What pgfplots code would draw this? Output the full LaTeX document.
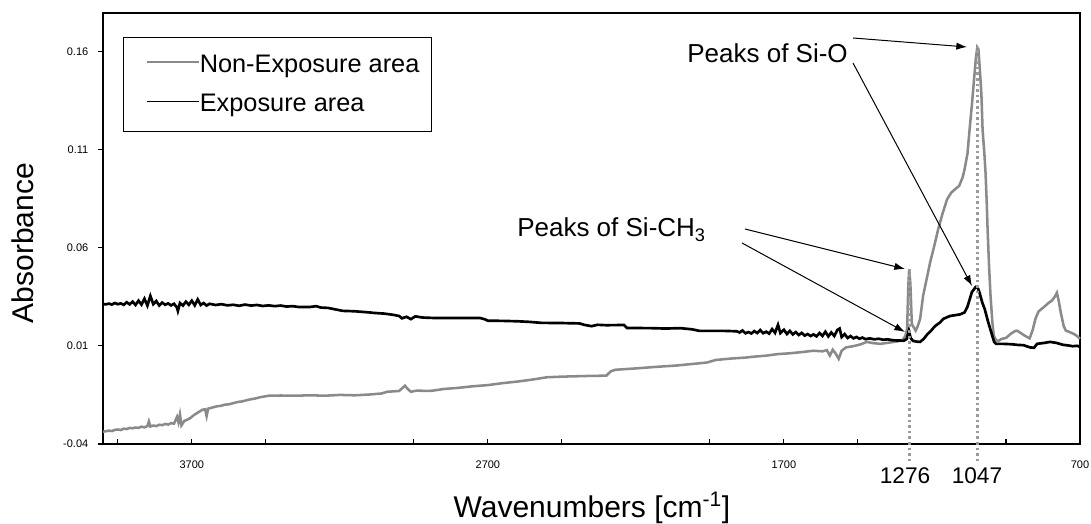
\documentclass[border=0pt]{standalone}
\usepackage{fontspec}
\setmainfont{Liberation Sans}
\usepackage{pgfplots}
\pgfplotsset{compat=1.18}
\usetikzlibrary{arrows.meta}
\definecolor{lgray}{RGB}{138,138,138}
\definecolor{dgray}{RGB}{155,155,155}
\begin{document}
\begin{tikzpicture}
\useasboundingbox (-77.25pt,-60pt) rectangle (741pt,333pt);
\begin{axis}[
 scale only axis, width=732.75pt, height=323.25pt,
 at={(0,0)}, anchor=south west,
 x dir=reverse, xmin=700, xmax=4000, ymin=-0.04, ymax=0.1795,
 clip=false,
 axis line style={line width=1.8pt},
 xtick={700,1700,2700,3700}, xticklabels={700,1700,2700,3700},
 minor xtick={950,1450,1950,2450,2950,3450,3950},
 ytick={-0.04,0.01,0.06,0.11,0.16}, yticklabels={-0.04,0.01,0.06,0.11,0.16},
 xtick align=inside, ytick align=outside,
 xtick pos=left, ytick pos=left,
 major tick length=4pt, minor tick length=4pt,
 tick style={black, line width=0.8pt},
 ticklabel style={font=\fontsize{8.25}{10}\selectfont},
 yticklabel style={xshift=-3.5pt},
 xticklabel style={yshift=-9pt},
 xlabel={Wavenumbers [cm\textsuperscript{-1}]},
 ylabel={Absorbance},
 label style={font=\fontsize{22.5}{27}\selectfont},
 xlabel style={at={(axis description cs:0.5005,-0.1694)}, anchor=base},
 ylabel style={at={(axis description cs:-0.0824,0.466)}, anchor=center},
 legend cell align=left,
 legend style={at={(rel axis cs:0.0205,0.944)}, anchor=north west, draw=black, line width=0.75pt,
   inner xsep=9pt, inner ysep=13pt, row sep=15pt, font=\fontsize{19}{23}\selectfont,
   nodes={inner sep=0pt}, /tikz/every even column/.append style={column sep=3.75pt}},
 legend image code/.code={\path (0pt,0pt); \draw[#1,line width=1.4pt] (7.5pt,0.2em) -- (46.5pt,0.2em);},
]
\addplot[lgray, line width=1.9pt] coordinates {
(4000,-0.0337) (3990,-0.0335) (3980,-0.0332) (3970,-0.0334) (3960,-0.0328) (3950,-0.0326) (3940,-0.0329) (3930,-0.0322) (3920,-0.0324) (3910,-0.0318) (3900,-0.0320) (3890,-0.0316) (3880,-0.0318) (3870,-0.0312) (3860,-0.0315) (3850,-0.0309) (3845,-0.0285) (3840,-0.0311) (3830,-0.0306) (3820,-0.0309) (3810,-0.0302) (3800,-0.0304) (3790,-0.0298) (3780,-0.0301) (3770,-0.0294) (3760,-0.0296) (3750,-0.0262) (3745,-0.0290) (3740,-0.0250) (3735,-0.0305) (3725,-0.0282) (3715,-0.0276) (3705,-0.0268) (3695,-0.0255) (3685,-0.0245) (3675,-0.0236) (3665,-0.0226) (3655,-0.0223) (3650,-0.0258) (3645,-0.0220) (3630,-0.0214) (3615,-0.0208) (3600,-0.0205) (3590,-0.0200) (3575,-0.0198) (3560,-0.0192) (3545,-0.0186) (3530,-0.0183) (3515,-0.0177) (3500,-0.0172) (3485,-0.0168) (3470,-0.0162) (3455,-0.0158) (3440,-0.0154) (3400,-0.0153) (3350,-0.0154) (3300,-0.0152) (3250,-0.0154) (3200,-0.0150) (3150,-0.0152) (3100,-0.0148) (3060,-0.0143) (3040,-0.0134) (3000,-0.0130) (2985,-0.0110) (2980,-0.0103) (2972,-0.0118) (2960,-0.0134) (2940,-0.0128) (2900,-0.0130) (2880,-0.0127) (2850,-0.0120) (2800,-0.0114) (2750,-0.0106) (2700,-0.0100) (2650,-0.0090) (2600,-0.0082) (2550,-0.0072) (2500,-0.0060) (2450,-0.0057) (2400,-0.0055) (2350,-0.0053) (2300,-0.0052) (2285,-0.0030) (2270,-0.0022) (2200,-0.0015) (2130,-0.0007) (2060,0.0000) (2000,0.0009) (1960,0.0015) (1930,0.0028) (1880,0.0035) (1830,0.0040) (1800,0.0045) (1760,0.0050) (1720,0.0058) (1680,0.0062) (1640,0.0068) (1600,0.0075) (1570,0.0072) (1555,0.0078) (1545,0.0050) (1535,0.0080) (1525,0.0060) (1515,0.0034) (1505,0.0075) (1490,0.0092) (1460,0.0100) (1440,0.0108) (1420,0.0120) (1400,0.0114) (1375,0.0110) (1350,0.0115) (1320,0.0122) (1300,0.0128) (1290,0.0150) (1284,0.0186) (1280,0.0400) (1277,0.0490) (1273,0.0420) (1268,0.0210) (1262,0.0195) (1255,0.0177) (1248,0.0200) (1240,0.0237) (1230,0.0354) (1218,0.0440) (1206,0.0526) (1192,0.0610) (1179,0.0694) (1165,0.0770) (1149,0.0846) (1135,0.0880) (1120,0.0900) (1108,0.0915) (1096,0.0960) (1090,0.0998) (1080,0.1080) (1073,0.1200) (1065,0.1330) (1058,0.1455) (1052,0.1560) (1047,0.1620) (1043,0.1610) (1038,0.1500) (1033,0.1380) (1029,0.1200) (1023,0.1080) (1019,0.0980) (1015,0.0830) (1012,0.0690) (1007,0.0500) (1002,0.0350) (996,0.0220) (991,0.0150) (983,0.0128) (975,0.0125) (965,0.0135) (950,0.0140) (935,0.0160) (920,0.0175) (912,0.0177) (900,0.0165) (885,0.0150) (870,0.0138) (860,0.0180) (850,0.0240) (840,0.0275) (820,0.0300) (805,0.0320) (795,0.0330) (785,0.0350) (778,0.0370) (772,0.0330) (765,0.0270) (755,0.0200) (748,0.0178) (735,0.0170) (720,0.0160) (710,0.0150) (700,0.0136)
};
\addlegendentry{Non-Exposure area}
\addplot[black, line width=2pt] coordinates {
(4000,0.0313) (3990,0.0311) (3980,0.0315) (3970,0.0310) (3960,0.0318) (3950,0.0312) (3940,0.0316) (3930,0.0309) (3920,0.0322) (3910,0.0311) (3900,0.0325) (3890,0.0308) (3880,0.0330) (3870,0.0310) (3860,0.0340) (3850,0.0305) (3840,0.0354) (3830,0.0312) (3820,0.0328) (3810,0.0305) (3800,0.0320) (3790,0.0309) (3780,0.0316) (3770,0.0306) (3760,0.0314) (3750,0.0295) (3747,0.0278) (3740,0.0318) (3730,0.0305) (3720,0.0325) (3710,0.0309) (3700,0.0330) (3690,0.0306) (3680,0.0336) (3670,0.0308) (3660,0.0318) (3650,0.0305) (3640,0.0314) (3620,0.0308) (3600,0.0312) (3580,0.0306) (3560,0.0309) (3540,0.0304) (3520,0.0310) (3500,0.0305) (3480,0.0308) (3460,0.0303) (3440,0.0306) (3420,0.0302) (3400,0.0305) (3380,0.0300) (3360,0.0302) (3340,0.0298) (3300,0.0298) (3280,0.0302) (3265,0.0295) (3240,0.0293) (3210,0.0284) (3190,0.0278) (3150,0.0276) (3100,0.0270) (3088,0.0268) (3050,0.0264) (3020,0.0258) (3000,0.0252) (2990,0.0240) (2975,0.0248) (2960,0.0236) (2945,0.0250) (2920,0.0244) (2885,0.0242) (2800,0.0242) (2727,0.0242) (2710,0.0235) (2700,0.0228) (2650,0.0227) (2600,0.0225) (2560,0.0222) (2520,0.0217) (2450,0.0216) (2390,0.0214) (2375,0.0207) (2350,0.0200) (2330,0.0207) (2300,0.0205) (2240,0.0206) (2230,0.0191) (2150,0.0190) (2100,0.0188) (2050,0.0190) (2010,0.0184) (1985,0.0176) (1900,0.0176) (1860,0.0174) (1850,0.0168) (1840,0.0178) (1830,0.0164) (1820,0.0170) (1810,0.0163) (1800,0.0175) (1790,0.0165) (1780,0.0180) (1770,0.0164) (1760,0.0172) (1750,0.0162) (1740,0.0185) (1730,0.0166) (1720,0.0207) (1712,0.0165) (1700,0.0182) (1690,0.0160) (1680,0.0176) (1670,0.0158) (1660,0.0170) (1650,0.0155) (1640,0.0166) (1630,0.0152) (1620,0.0160) (1610,0.0150) (1600,0.0158) (1590,0.0148) (1580,0.0165) (1570,0.0150) (1560,0.0172) (1550,0.0148) (1540,0.0168) (1530,0.0150) (1520,0.0180) (1512,0.0188) (1505,0.0145) (1495,0.0160) (1485,0.0140) (1475,0.0150) (1465,0.0138) (1455,0.0145) (1445,0.0136) (1435,0.0142) (1425,0.0134) (1410,0.0138) (1395,0.0133) (1380,0.0136) (1365,0.0131) (1350,0.0133) (1330,0.0128) (1310,0.0127) (1295,0.0126) (1285,0.0135) (1278,0.0177) (1272,0.0140) (1264,0.0125) (1250,0.0121) (1240,0.0120) (1228,0.0135) (1215,0.0160) (1206,0.0172) (1190,0.0200) (1172,0.0220) (1162,0.0237) (1139,0.0252) (1105,0.0260) (1090,0.0270) (1080,0.0300) (1065,0.0374) (1052,0.0400) (1046,0.0398) (1040,0.0374) (1030,0.0320) (1022,0.0288) (1010,0.0220) (1000,0.0170) (990,0.0120) (983,0.0110) (960,0.0110) (930,0.0108) (913,0.0105) (890,0.0103) (869,0.0092) (855,0.0090) (845,0.0110) (820,0.0115) (801,0.0120) (780,0.0115) (757,0.0105) (740,0.0102) (725,0.0098) (710,0.0100) (700,0.0095)
};
\addlegendentry{Exposure area}
\draw[dgray, line width=2pt, dash pattern=on 2pt off 2.2pt] (axis cs:1276,-0.0489) -- (axis cs:1276,0.049);
\draw[dgray, line width=2pt, dash pattern=on 2pt off 2.2pt] (axis cs:1047,-0.0489) -- (axis cs:1047,0.1623);
\node[anchor=base, font=\fontsize{17}{20}\selectfont] at (axis cs:1291,-0.0600) {1276};
\node[anchor=base, font=\fontsize{17}{20}\selectfont] at (axis cs:1048,-0.0600) {1047};
\end{axis}
\begin{scope}[x=0.75pt, y=-0.75pt, shift={(-103,-444)}]
\node[anchor=base east, inner sep=0pt, font=\fontsize{19.5}{23}\selectfont] at (848,63) {Peaks of Si-O};
\node[anchor=base west, inner sep=0pt, font=\fontsize{19.5}{23}\selectfont] at (517,237) {Peaks of Si-CH\textsubscript{3}};
\draw[line width=0.75pt, -{Latex[length=8pt,width=5.5pt]}] (853,38) -- (967,47);
\draw[line width=0.75pt, -{Latex[length=8pt,width=5.5pt]}] (853,63) -- (972,286);
\draw[line width=0.75pt, -{Latex[length=8pt,width=5.5pt]}] (745,229) -- (905,269);
\draw[line width=0.75pt, -{Latex[length=8pt,width=5.5pt]}] (742,243) -- (905,332);
\end{scope}
\end{tikzpicture}
\end{document}
